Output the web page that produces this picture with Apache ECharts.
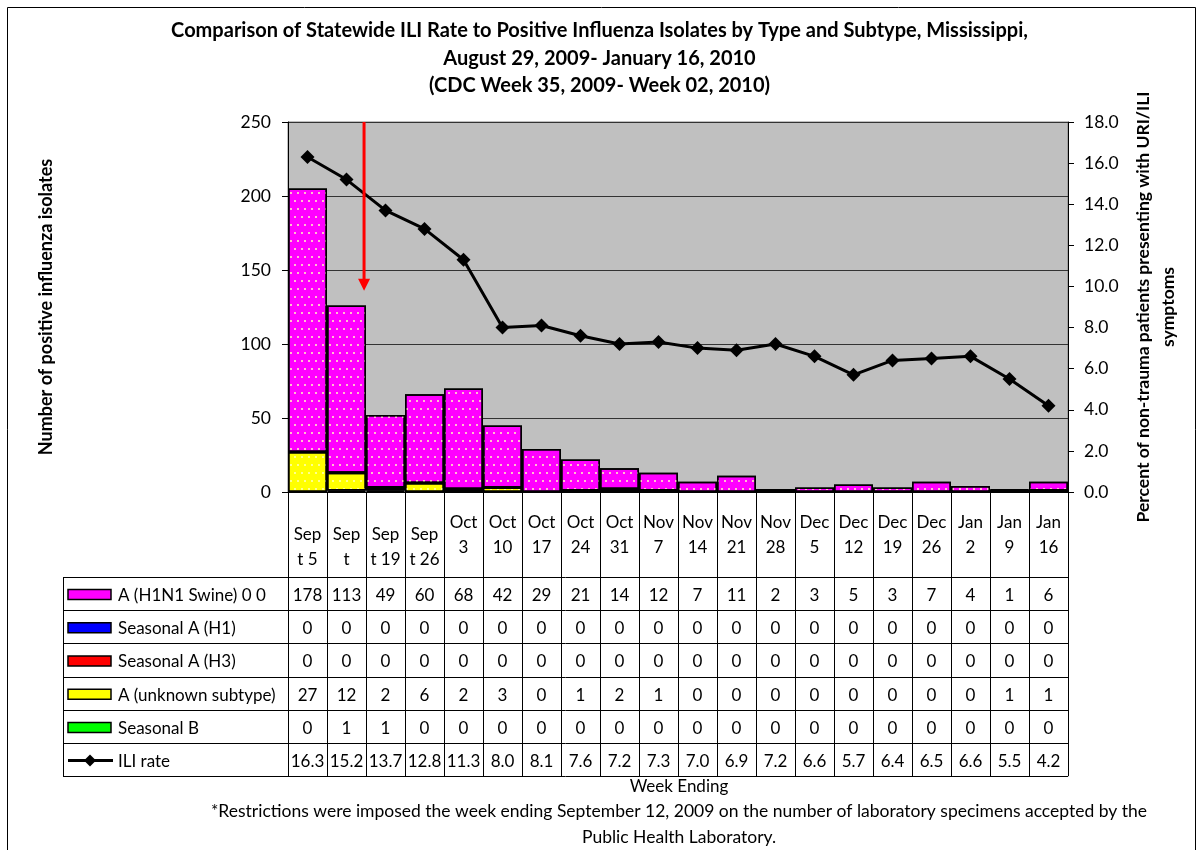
<!DOCTYPE html>
<html>
<head>
<meta charset="utf-8">
<script src="https://cdn.jsdelivr.net/npm/echarts@6/dist/echarts.min.js"></script>
<style>
  html, body { margin: 0; padding: 0; background: #fff; }
  #main { width: 1199px; height: 850px; }
</style>
</head>
<body>
<div id="main"></div>
<script>
var weeks = ['\nSep\nt 5', '\nSep\nt', '\nSep\nt 19', '\nSep\nt 26', 'Oct\n3', 'Oct\n10', 'Oct\n17', 'Oct\n24', 'Oct\n31', 'Nov\n7',
             'Nov\n14', 'Nov\n21', 'Nov\n28', 'Dec\n5', 'Dec\n12', 'Dec\n19', 'Dec\n26', 'Jan\n2', 'Jan\n9', 'Jan\n16'];
var swine    = [178, 113, 49, 60, 68, 42, 29, 21, 14, 12, 7, 11, 2, 3, 5, 3, 7, 4, 1, 6];
var seasH1   = [0, 0, 0, 0, 0, 0, 0, 0, 0, 0, 0, 0, 0, 0, 0, 0, 0, 0, 0, 0];
var seasH3   = [0, 0, 0, 0, 0, 0, 0, 0, 0, 0, 0, 0, 0, 0, 0, 0, 0, 0, 0, 0];
var unknown  = [27, 12, 2, 6, 2, 3, 0, 1, 2, 1, 0, 0, 0, 0, 0, 0, 0, 0, 1, 1];
var seasB    = [0, 1, 1, 0, 0, 0, 0, 0, 0, 0, 0, 0, 0, 0, 0, 0, 0, 0, 0, 0];
var iliRate  = [16.3, 15.2, 13.7, 12.8, 11.3, 8.0, 8.1, 7.6, 7.2, 7.3, 7.0, 6.9, 7.2, 6.6, 5.7, 6.4, 6.5, 6.6, 5.5, 4.2];

var rows = [
    { name: 'A (H1N1 Swine) 0 0', data: swine, color: '#FF00FF' },
    { name: 'Seasonal A (H1)', data: seasH1, color: '#0000FF' },
    { name: 'Seasonal A (H3)', data: seasH3, color: '#FF0000' },
    { name: 'A (unknown subtype)', data: unknown, color: '#FFFF00' },
    { name: 'Seasonal B', data: seasB, color: '#00FF00' },
    { name: 'ILI rate', data: iliRate, color: '#000000', line: true }
];

var FONT = 'Lato, "Liberation Sans", sans-serif';
var gridL = 288, gridR = 131, gridT = 122, gridB = 358;
var axisY = 850 - gridB;          // 492
var rowTop = 577, rowH = 33.2;

var dots = {
    symbol: 'rect',
    symbolSize: 1,
    color: 'rgba(255,255,190,0.75)',
    dashArrayX: [[1.5, 4.5], [0, 3, 1.5, 1.5]],
    dashArrayY: [1.5, 6]
};

var myChart = echarts.init(document.getElementById('main'));

// bars stacked from the bottom: B, unknown, H3, H1, swine
var barSeries = [4, 3, 2, 1, 0].map(function (k) {
    return {
        name: rows[k].name,
        type: 'bar',
        stack: 'isolates',
        barCategoryGap: 0,
        data: rows[k].data,
        itemStyle: { color: rows[k].color, borderColor: '#000', borderWidth: 1.5, decal: dots },
        emphasis: { disabled: true }
    };
});

// one hidden x axis per table row, used only for its labels
var rowAxes = rows.map(function (r, k) {
    return {
        type: 'category',
        gridIndex: 0,
        position: 'bottom',
        offset: rowTop - axisY + rowH * k,
        data: weeks,
        axisLine: { show: false },
        axisTick: { show: false },
        splitLine: { show: false },
        axisLabel: {
            interval: 0, margin: rowH / 2 + 2, fontSize: 17, fontFamily: FONT, color: '#000', verticalAlign: 'middle',
            formatter: function (v, i) { return r.line ? r.data[i].toFixed(1) : String(r.data[i]); }
        }
    };
});

var tableGraphics = [];
var tableRight = 1199 - gridR;
tableGraphics.push({ type: 'line', shape: { x1: 63.5, y1: rowTop, x2: 63.5, y2: rowTop + rowH * 6 }, style: { stroke: '#000', lineWidth: 1 } });
for (var k = 0; k <= 6; k++) {
    var yy = Math.round(rowTop + rowH * k) + 0.5;
    tableGraphics.push({ type: 'line', shape: { x1: 63, y1: yy, x2: tableRight, y2: yy }, style: { stroke: '#000', lineWidth: 1 } });
}
rows.forEach(function (r, k) {
    var cy = rowTop + rowH * k + rowH / 2 + 1;
    if (r.line) {
        tableGraphics.push({ type: 'line', shape: { x1: 68, y1: cy, x2: 113, y2: cy }, style: { stroke: '#000', lineWidth: 3 } });
        tableGraphics.push({ type: 'polygon', shape: { points: [[90, cy - 6], [96, cy], [90, cy + 6], [84, cy]] }, style: { fill: '#000' } });
    } else {
        tableGraphics.push({ type: 'rect', shape: { x: 68, y: cy - 5, width: 43, height: 10 }, style: { fill: r.color, stroke: '#000', lineWidth: 1.5 } });
    }
    tableGraphics.push({ type: 'text', x: 118, y: cy + 1, style: { text: r.name, font: '17px ' + FONT, fill: '#000', textVerticalAlign: 'middle' } });
});
tableGraphics.push({ type: 'text', x: 679, y: 787, style: { text: 'Week Ending', font: '17px ' + FONT, fill: '#000', textAlign: 'center', textVerticalAlign: 'middle' } });
tableGraphics.push({ type: 'text', x: 679, y: 811, style: { text: '*Restrictions were imposed the week ending September 12, 2009 on the number of laboratory specimens accepted by the', font: '17.5px ' + FONT, fill: '#000', textAlign: 'center', textVerticalAlign: 'middle' } });
tableGraphics.push({ type: 'text', x: 679, y: 837, style: { text: 'Public Health Laboratory.', font: '17.5px ' + FONT, fill: '#000', textAlign: 'center', textVerticalAlign: 'middle' } });
tableGraphics.push({ type: 'rect', shape: { x: 7.5, y: 7.5, width: 1188, height: 900 }, style: { fill: null, stroke: '#000', lineWidth: 1 } });

var option = {
    animation: false,
    backgroundColor: '#fff',
    textStyle: { fontFamily: FONT },
    title: {
        text: 'Comparison of Statewide ILI Rate to Positive Influenza Isolates by Type and Subtype, Mississippi,\nAugust 29, 2009- January 16, 2010\n(CDC Week 35, 2009- Week 02, 2010)',
        left: 'center',
        top: 12,
        textStyle: { fontSize: 20, fontWeight: 'bold', color: '#000', lineHeight: 27.5, fontFamily: FONT }
    },
    grid: { left: gridL, right: gridR, top: gridT, bottom: gridB, show: true, backgroundColor: '#C0C0C0', borderColor: '#808080', borderWidth: 1 },
    xAxis: [{
        type: 'category',
        data: weeks,
        axisLine: { lineStyle: { color: '#000', width: 1 } },
        axisTick: { show: true, length: rowTop + rowH * 6 - axisY, lineStyle: { color: '#000', width: 1 } },
        axisLabel: { interval: 0, margin: 43, fontSize: 17, lineHeight: 25, color: '#000', fontFamily: FONT, verticalAlign: 'middle' },
        z: 5
    }].concat(rowAxes),
    yAxis: [{
        type: 'value',
        min: 0, max: 250, interval: 50,
        name: 'Number of positive influenza isolates',
        nameLocation: 'middle',
        nameRotate: 90,
        nameGap: 233,
        nameTextStyle: { fontSize: 18, fontWeight: 'bold', color: '#000', fontFamily: FONT },
        axisLine: { show: true, lineStyle: { color: '#000' } },
        axisTick: { show: true, length: 6, lineStyle: { color: '#000' } },
        axisLabel: { fontSize: 17.5, color: '#000', margin: 17, fontFamily: FONT },
        splitLine: { lineStyle: { color: '#333', width: 1 } }
    }, {
        type: 'value',
        position: 'right',
        min: 0, max: 18, interval: 2,
        name: 'Percent of non-trauma patients presenting with URI/ILI\nsymptoms',
        nameLocation: 'middle',
        nameRotate: 90,
        nameGap: 63,
        nameTextStyle: { fontSize: 17.5, fontWeight: 'bold', color: '#000', lineHeight: 25, fontFamily: FONT },
        axisLine: { show: true, lineStyle: { color: '#000' } },
        axisTick: { show: true, length: 6, lineStyle: { color: '#000' } },
        axisLabel: { fontSize: 17.5, color: '#000', margin: 16, fontFamily: FONT, formatter: function (v) { return v.toFixed(1); } },
        splitLine: { show: false }
    }],
    series: barSeries.concat([{
        name: 'ILI rate',
        type: 'line',
        yAxisIndex: 1,
        data: iliRate,
        symbol: 'diamond',
        symbolSize: 14,
        lineStyle: { color: '#000', width: 3 },
        itemStyle: { color: '#000' },
        z: 10
    }]),
    graphic: tableGraphics
};
myChart.setOption(option);

// red arrow marking the week restrictions began (between Sept 12 and Sept 19)
var c1 = myChart.convertToPixel({ xAxisIndex: 0 }, weeks[1]);
var c2 = myChart.convertToPixel({ xAxisIndex: 0 }, weeks[2]);
var ax = c1 + (c2 - c1) * 0.45;
var yTop = myChart.convertToPixel({ yAxisIndex: 0 }, 250);
var yTip = myChart.convertToPixel({ yAxisIndex: 0 }, 136);
myChart.setOption({
    graphic: tableGraphics.concat([
        { type: 'line', shape: { x1: ax, y1: yTop, x2: ax, y2: yTip - 10 }, style: { stroke: '#FF0000', lineWidth: 3 }, z: 20 },
        { type: 'polygon', shape: { points: [[ax - 6, yTip - 12], [ax + 6, yTip - 12], [ax, yTip]] }, style: { fill: '#FF0000' }, z: 20 }
    ])
});
</script>
</body>
</html>
